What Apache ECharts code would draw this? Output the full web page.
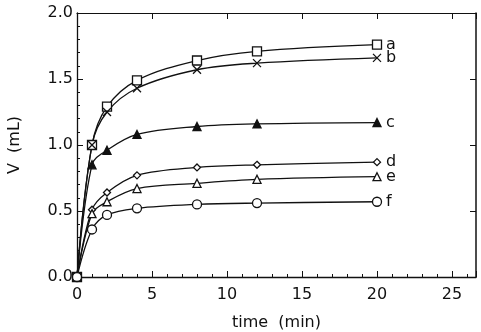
<!DOCTYPE html>
<html>
<head>
<meta charset="utf-8">
<script src="https://cdn.jsdelivr.net/npm/echarts@6/dist/echarts.min.js"></script>
<style>
  html, body { margin: 0; padding: 0; background: #fff; }
  #main { width: 481px; height: 332px; }
</style>
</head>
<body>
<div id="main"></div>
<script>
// time points (min)
const times = [0, 1, 2, 4, 8, 12, 20];
// V (mL) per curve
const seriesA = [0, 1.00, 1.29, 1.49, 1.64, 1.71, 1.76];
const seriesB = [0, 1.00, 1.25, 1.43, 1.57, 1.62, 1.66];
const seriesC = [0, 0.85, 0.96, 1.08, 1.14, 1.16, 1.17];
const seriesD = [0, 0.51, 0.64, 0.77, 0.83, 0.85, 0.87];
const seriesE = [0, 0.48, 0.57, 0.67, 0.71, 0.74, 0.76];
const seriesF = [0, 0.36, 0.47, 0.52, 0.55, 0.56, 0.57];
const names = ['a', 'b', 'c', 'd', 'e', 'f'];

const font = 'DejaVu Sans';
const ink = '#111';

const crossPath = 'path://M0,0L10,10M10,0L0,10';
const markers = [
  { symbol: 'rect', size: 9, fill: '#fff' },
  { symbol: crossPath, size: 8, fill: 'none' },
  { symbol: 'triangle', size: 8, fill: ink },
  { symbol: 'diamond', size: 7, fill: '#fff' },
  { symbol: 'triangle', size: 8, fill: '#fff' },
  { symbol: 'circle', size: 9, fill: '#fff' }
];

const allData = [seriesA, seriesB, seriesC, seriesD, seriesE, seriesF];

const chart = echarts.init(document.getElementById('main'));

const series = allData.map((vals, i) => ({
  name: names[i],
  type: 'line',
  data: vals.map((v, j) => [times[j], v]),
  smooth: 0.35,
  symbol: markers[i].symbol,
  symbolSize: markers[i].size,
  showAllSymbol: true,
  lineStyle: { color: ink, width: 1.3 },
  itemStyle: { color: markers[i].fill, borderColor: ink, borderWidth: 1.3 },
  endLabel: {
    show: true,
    formatter: '{a}',
    color: ink,
    fontFamily: font,
    fontSize: 16,
    distance: 9
  },
  emphasis: { disabled: true },
  animation: false
}));

const tickFmt = v => (Math.abs(v % 5) < 1e-9 ? String(v) : '');

chart.setOption({
  backgroundColor: '#fff',
  animation: false,
  grid: { left: 77, right: 5, top: 13, bottom: 55, outerBoundsMode: 'none', containLabel: false },
  xAxis: [
    {
      type: 'value',
      min: 0,
      max: 26.6,
      interval: 5,
      name: 'time  (min)',
      nameLocation: 'middle',
      nameGap: 38,
      nameTextStyle: { color: ink, fontFamily: font, fontSize: 16 },
      axisLine: { onZero: false, lineStyle: { color: ink, width: 1.3 } },
      axisTick: { inside: true, length: 6, lineStyle: { color: ink } },
      minorTick: { show: true, splitNumber: 5, length: 3, lineStyle: { color: ink } },
      splitLine: { show: false },
      axisLabel: { color: ink, fontFamily: font, fontSize: 16, margin: 10, formatter: tickFmt }
    },
    {
      type: 'value',
      position: 'top',
      min: 0,
      max: 26.6,
      interval: 5,
      axisLine: { show: true, onZero: false, lineStyle: { color: ink, width: 1.2 } },
      axisTick: { show: true, inside: true, length: 6, lineStyle: { color: ink } },
      axisLabel: { show: false },
      splitLine: { show: false }
    }
  ],
  yAxis: [
    {
      type: 'value',
      min: 0,
      max: 2,
      interval: 0.5,
      name: 'V  (mL)',
      nameLocation: 'middle',
      nameGap: 54,
      nameRotate: 90,
      nameTextStyle: { color: ink, fontFamily: font, fontSize: 16 },
      axisLine: { show: true, onZero: false, lineStyle: { color: ink, width: 1.3 } },
      axisTick: { inside: true, length: 6, lineStyle: { color: ink } },
      minorTick: { show: true, splitNumber: 5, length: 3, lineStyle: { color: ink } },
      splitLine: { show: false },
      axisLabel: { color: ink, fontFamily: font, fontSize: 16, margin: 4, formatter: v => v.toFixed(1) }
    },
    {
      type: 'value',
      position: 'right',
      min: 0,
      max: 2,
      interval: 0.5,
      axisLine: { show: true, onZero: false, lineStyle: { color: ink, width: 1.5 } },
      axisTick: { show: true, inside: true, length: 6, lineStyle: { color: ink } },
      axisLabel: { show: false },
      splitLine: { show: false }
    }
  ],
  series: series
});
</script>
</body>
</html>
